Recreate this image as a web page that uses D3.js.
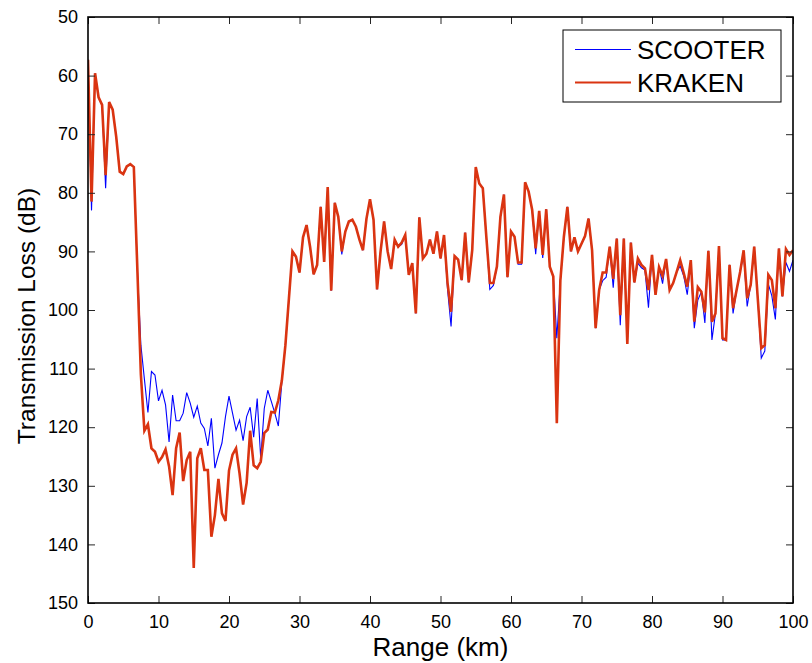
<!DOCTYPE html>
<html>
<head>
<meta charset="utf-8">
<script src="https://cdn.jsdelivr.net/npm/d3@7/dist/d3.min.js"></script>
<style>
  html, body { margin: 0; padding: 0; background: #fff; }
  svg { display: block; font-family: "Liberation Sans", Arial, Helvetica, sans-serif; }
</style>
</head>
<body>
<svg id="chart" width="812" height="663"></svg>
<script>
// ---- Data (range step 0.5 km, 0..100 km) ----
const rangeStart = 0;
const rangeStep = 0.5;

const kraken = [
  57.3, 81.5, 59.6, 63.7, 65.0, 77.0, 64.5, 65.8, 70.4, 76.4,   // 0 - 4.5
  76.8, 75.5, 75.1, 75.6, 93.0, 111.0, 120.6, 119.5, 123.6, 124.2, // 5 - 9.5
  125.9, 125.1, 123.8, 126.7, 131.6, 123.6, 120.9, 129.2, 125.6, 124.2, // 10 - 14.5
  144.0, 125.3, 123.6, 127.3, 127.3, 138.7, 135.0, 128.8, 134.7, 136.0, // 15 - 19.5
  127.4, 124.7, 123.6, 127.9, 133.2, 129.5, 120.6, 126.5, 127.0, 125.9, // 20 - 24.5
  121.0, 120.4, 117.4, 117.5, 115.4, 112.0, 106.0, 98.0, 90.0, 90.9,    // 25 - 29.5
  93.6, 87.6, 85.5, 89.2, 93.9, 92.3, 82.4, 91.8, 79.0, 96.7,           // 30 - 34.5
  81.7, 84.1, 90.0, 86.6, 84.9, 84.6, 85.8, 88.0, 89.8, 84.4,           // 35 - 39.5
  81.1, 84.6, 96.5, 90.0, 84.9, 90.0, 93.0, 88.0, 89.2, 88.5,           // 40 - 44.5
  87.2, 94.0, 92.0, 100.6, 84.2, 91.2, 90.4, 88.0, 90.4, 86.6,          // 45 - 49.5
  91.2, 87.2, 95.4, 100.3, 90.8, 91.4, 94.9, 86.8, 95.3, 89.8,          // 50 - 54.5
  75.6, 78.4, 79.2, 87.5, 95.4, 95.4, 92.6, 84.1, 80.3, 94.4,           // 55 - 59.5
  86.6, 87.5, 91.9, 91.9, 78.2, 79.8, 82.9, 89.5, 83.1, 90.6,           // 60 - 64.5
  82.8, 92.6, 94.3, 119.3, 95.0, 87.5, 82.4, 90.0, 87.6, 90.0,          // 65 - 69.5
  88.7, 87.4, 84.4, 89.8, 103.1, 96.6, 93.6, 93.6, 89.2, 94.7,          // 70 - 74.5
  87.8, 100.9, 87.8, 105.8, 88.5, 95.3, 91.2, 92.3, 92.9, 96.6,         // 75 - 79.5
  90.6, 97.4, 92.7, 94.2, 91.3, 96.6, 95.4, 93.5, 91.5, 93.7,           // 80 - 84.5
  96.0, 91.5, 102.0, 96.1, 96.9, 100.4, 89.9, 102.0, 100.6, 89.1,       // 85 - 89.5
  104.8, 105.1, 92.3, 99.7, 96.6, 93.5, 89.8, 98.0, 95.7, 89.2,         // 90 - 94.5
  98.0, 106.5, 106.0, 94.0, 94.9, 99.7, 89.5, 97.7, 89.6, 90.6,         // 95 - 99.5
  89.8                                                                  // 100
];

const scooter = [
  57.3, 83.0, 59.6, 63.7, 65.0, 79.2, 64.5, 65.8, 70.4, 76.4,
  76.8, 75.5, 75.1, 75.6, 93.0, 106.0, 111.8, 117.5, 110.5, 111.1,
  115.5, 113.7, 116.2, 122.5, 114.5, 118.9, 118.9, 117.6, 114.1, 115.9,
  118.3, 116.4, 119.3, 120.2, 123.2, 118.5, 127.0, 124.7, 122.7, 118.2,
  114.7, 117.6, 120.5, 118.8, 122.3, 118.2, 116.6, 121.7, 115.1, 125.3,
  116.8, 113.7, 115.6, 117.6, 119.8, 112.2, 106.0, 98.0, 90.0, 90.9,
  93.6, 87.6, 85.5, 89.2, 93.9, 92.3, 82.4, 91.8, 79.0, 96.7,
  81.7, 84.1, 90.5, 86.6, 84.9, 84.6, 85.8, 88.0, 89.8, 84.4,
  81.1, 84.6, 96.5, 90.0, 84.9, 90.0, 93.0, 88.0, 89.2, 88.8,
  87.2, 94.0, 92.0, 100.6, 84.2, 91.2, 90.4, 88.0, 90.4, 86.6,
  91.2, 87.2, 96.5, 102.8, 90.8, 91.4, 94.9, 86.8, 95.3, 89.8,
  75.6, 78.4, 79.2, 87.5, 96.5, 95.8, 92.6, 84.1, 80.3, 94.4,
  86.6, 87.5, 92.2, 92.2, 78.2, 79.8, 82.9, 90.5, 83.1, 91.1,
  82.8, 92.6, 94.3, 104.8, 95.0, 87.5, 82.4, 90.0, 87.6, 90.0,
  88.7, 87.4, 84.4, 89.8, 103.1, 96.6, 95.0, 94.4, 89.2, 96.2,
  87.8, 102.6, 87.8, 105.8, 88.5, 95.3, 92.0, 92.8, 93.2, 99.6,
  90.6, 97.4, 92.7, 95.5, 91.3, 96.6, 95.4, 93.5, 92.5, 94.2,
  97.4, 92.0, 103.1, 98.3, 96.9, 102.2, 89.9, 105.1, 100.6, 89.1,
  105.1, 105.1, 92.3, 100.6, 96.6, 93.5, 90.5, 99.4, 95.7, 89.2,
  98.0, 108.2, 107.0, 95.6, 97.6, 101.6, 89.5, 97.7, 91.9, 93.4,
  91.5
];

const seriesNames = ["SCOOTER", "KRAKEN"];
const xTicks = [0, 10, 20, 30, 40, 50, 60, 70, 80, 90, 100];
const yTicks = [50, 60, 70, 80, 90, 100, 110, 120, 130, 140, 150];
const xLabel = "Range (km)";
const yLabel = "Transmission Loss (dB)";

// ---- Layout ----
const svg = d3.select("#chart");
const pL = 88, pR = 793, pT = 17, pB = 603;
const W = pR - pL, H = pB - pT;

const x = d3.scaleLinear().domain([0, 100]).range([pL, pR]);
const y = d3.scaleLinear().domain([50, 150]).range([pT, pB]);

const ranges = kraken.map((_, i) => rangeStart + i * rangeStep);
const rows = ranges.map((r, i) => ({ r, k: kraken[i], s: scooter[i] }));

svg.append("defs").append("clipPath").attr("id", "clip")
  .append("rect").attr("x", pL).attr("y", pT).attr("width", W).attr("height", H);

const g = svg.append("g");
const colors = { SCOOTER: "#0000ff", KRAKEN: "#da3411" };

const lineS = d3.line().x(d => x(d.r)).y(d => y(d.s));
const lineK = d3.line().x(d => x(d.r)).y(d => y(d.k));

const plot = g.append("g").attr("clip-path", "url(#clip)");
plot.append("path").datum(rows).attr("d", lineS)
  .attr("fill", "none").attr("stroke", colors.SCOOTER).attr("stroke-width", 1.1);
plot.append("path").datum(rows).attr("d", lineK)
  .attr("fill", "none").attr("stroke", colors.KRAKEN).attr("stroke-width", 2.6)
  .attr("stroke-miterlimit", 4);

// axes with inward ticks
const tickLen = 7;
const axB = d3.axisBottom(x).tickValues(xTicks).tickSize(-tickLen).tickPadding(12).tickFormat(d3.format("d"));
const axT = d3.axisTop(x).tickValues(xTicks).tickSize(-tickLen).tickFormat("");
const axL = d3.axisLeft(y).tickValues(yTicks).tickSize(-tickLen).tickPadding(10).tickFormat(d3.format("d"));
const axR = d3.axisRight(y).tickValues(yTicks).tickSize(-tickLen).tickFormat("");

function style(sel) {
  sel.select(".domain").remove();
  sel.selectAll(".tick line").attr("stroke", "#262626").attr("stroke-width", 1);
  sel.selectAll(".tick text").attr("fill", "#000").style("font-size", "18px")
    .style("font-family", '"Liberation Sans", Arial, sans-serif');
}
g.append("g").attr("transform", `translate(0,${pB})`).call(axB).call(style);
g.append("g").attr("transform", `translate(0,${pT})`).call(axT).call(style);
g.append("g").attr("transform", `translate(${pL},0)`).call(axL).call(style);
g.append("g").attr("transform", `translate(${pR},0)`).call(axR).call(style);

// box
g.append("rect").attr("x", pL).attr("y", pT).attr("width", W).attr("height", H)
  .attr("fill", "none").attr("stroke", "#000").attr("stroke-width", 1.6);

// axis labels
g.append("text").attr("x", (pL + pR) / 2).attr("y", 656)
  .attr("text-anchor", "middle").style("font-size", "26px").text(xLabel);
g.append("text").attr("transform", `translate(35,316) rotate(-90)`)
  .attr("text-anchor", "middle").style("font-size", "24.5px").text(yLabel);

// legend
const lg = g.append("g");
lg.append("rect").attr("x", 563).attr("y", 30).attr("width", 218).attr("height", 72)
  .attr("fill", "#fff").attr("stroke", "#000").attr("stroke-width", 1);
const legY = [49.5, 82.5];
seriesNames.forEach((n, i) => {
  lg.append("line").attr("x1", 575).attr("x2", 631).attr("y1", legY[i]).attr("y2", legY[i])
    .attr("stroke", colors[n]).attr("stroke-width", n === "KRAKEN" ? 2.2 : 1.1);
  lg.append("text").attr("x", 637).attr("y", legY[i] + 9.5).style("font-size", "26px").text(n);
});
</script>
</body>
</html>
